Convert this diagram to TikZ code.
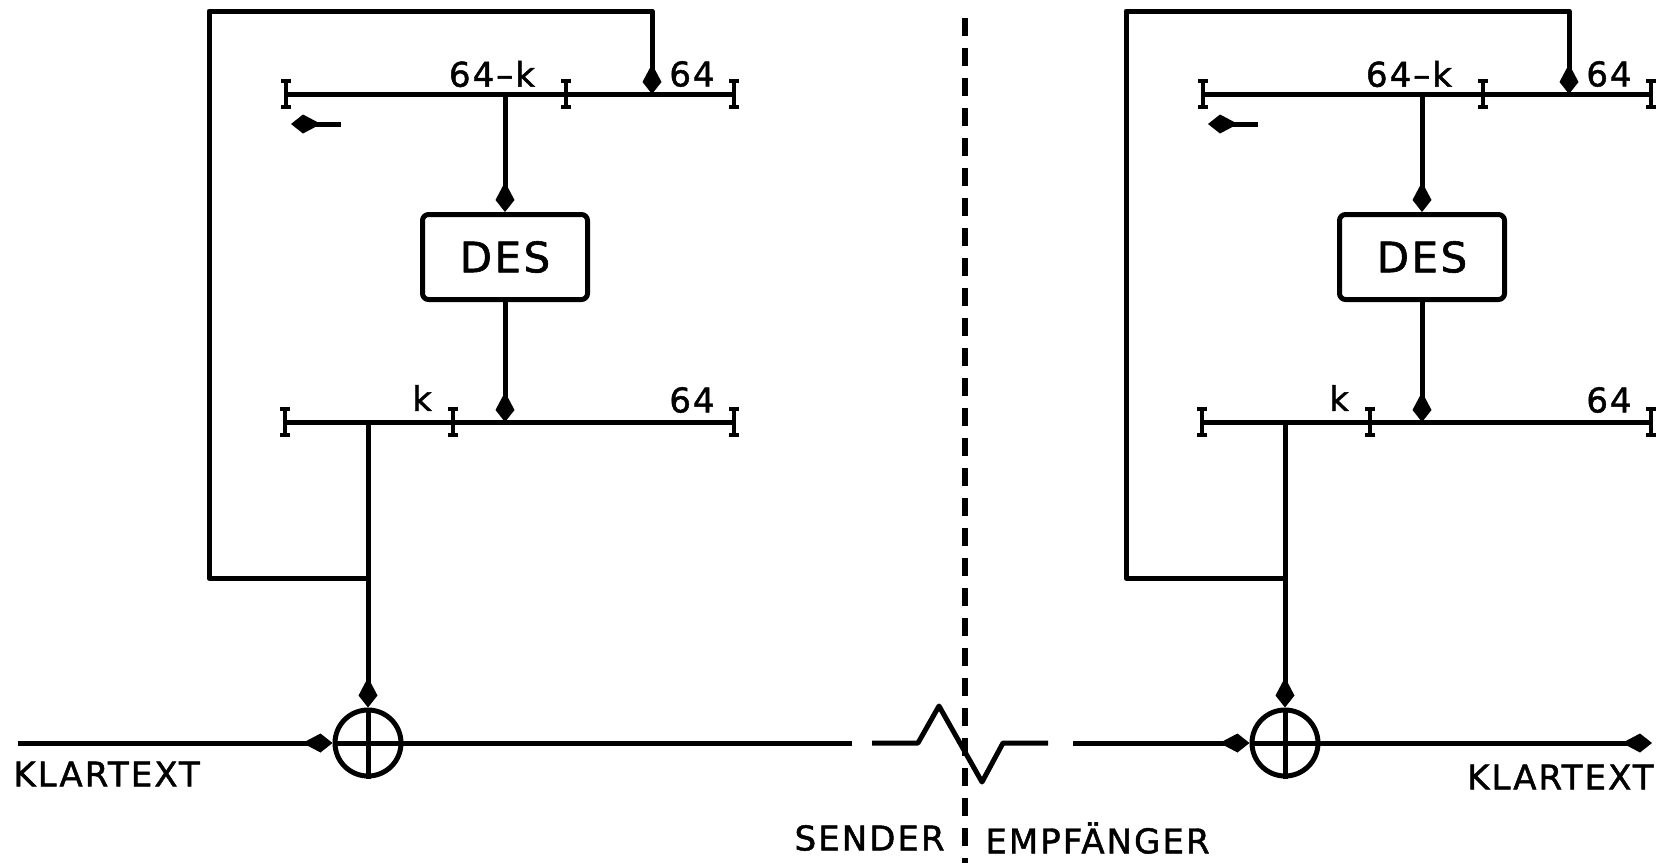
\documentclass[tikz,border=0pt]{standalone}
\usepackage{fontspec}
\setmainfont{DejaVu Sans}[LetterSpace=6, FakeBold=1.4]
\usetikzlibrary{arrows.meta}
\begin{document}
\begin{tikzpicture}[x=0.5pt,y=-0.5pt,
  ln/.style={line width=2.5pt, line join=round},
  arr/.style={ln, -{Kite[length=15pt,width=9.5pt,inset=9pt]}},
  lbl/.style={inner sep=0pt, font=\fontsize{17}{19}\selectfont},
  txt/.style={inner sep=0pt, font=\fontsize{17}{19}\selectfont},
  desbox/.style={ln, draw, rounded corners=3pt, minimum width=82.5pt, minimum height=42.5pt, inner sep=0pt, font=\fontsize{21}{24}\selectfont},
  xorc/.style={ln, draw, circle, minimum size=33pt, inner sep=0pt},
  ibeam/.pic={\draw[line width=2.3pt] (0,-13)--(0,13);
              \draw[line width=2pt] (-5,-13)--(5,-13) (-5,13)--(5,13);},
]
\useasboundingbox (0,0) rectangle (1662,863);

\foreach \p/\dx in {L/0,R/917}{
\begin{scope}[shift={(\dx,0)}]
  % upper register
  \coordinate (\p-ul) at (286,94);
  \coordinate (\p-um) at (566,94);
  \coordinate (\p-ur) at (734,94);
  \coordinate (\p-uo) at (505,94);
  \coordinate (\p-ui) at (652,94);
  % lower register
  \coordinate (\p-ll) at (285,422);
  \coordinate (\p-lm) at (453,422);
  \coordinate (\p-lr) at (734,422);
  \coordinate (\p-li) at (505,422);
  \coordinate (\p-lo) at (368,422);
  % loop
  \coordinate (\p-lb) at (368,578);
  \coordinate (\p-c1) at (209,578);
  \coordinate (\p-c2) at (209,11);
  \coordinate (\p-c3) at (652,11);
  % shift arrow
  \coordinate (\p-sa1) at (341,124);
  \coordinate (\p-sa2) at (291,124);

  \node[desbox] (\p-des) at (505,257) {DES};
  \node[xorc] (\p-xor) at (368,743) {};

  \draw[ln] (\p-ul) -- (\p-ur);
  \draw[ln] (\p-ll) -- (\p-lr);
  \pic at (\p-ul) {ibeam};
  \pic at (\p-um) {ibeam};
  \pic at (\p-ur) {ibeam};
  \pic at (\p-ll) {ibeam};
  \pic at (\p-lm) {ibeam};
  \pic at (\p-lr) {ibeam};

  \node[lbl] (\p-t1) at (492,74) {64–k};
  \node[lbl] (\p-t2) at (692,74) {64};
  \node[lbl] (\p-t3) at (422,398) {k};
  \node[lbl] (\p-t4) at (692,400) {64};

  \draw[arr] (\p-uo) -- (\p-des.north);
  \draw[arr] (\p-des.south) -- (\p-li);
  \draw[arr] (\p-lo) -- (\p-xor.north);
  \draw[arr] (\p-lb) -- (\p-c1) -- (\p-c2) -- (\p-c3) -- (\p-ui);
  \draw[arr] (\p-sa1) -- (\p-sa2);

  \draw[ln] (\p-xor.north) -- (\p-xor.south);
  \draw[ln] (\p-xor.west) -- (\p-xor.east);
\end{scope}
}

% transmission line
\coordinate (in1) at (18,743);
\coordinate (o1) at (852,743);
\coordinate (z0) at (872,743);
\coordinate (z1) at (918,743);
\coordinate (z2) at (939,706);
\coordinate (z3) at (982,782);
\coordinate (z4) at (1003,743);
\coordinate (z5) at (1048,743);
\coordinate (in2) at (1073,743);
\coordinate (out2) at (1652,743);

\draw[arr] (in1) -- (L-xor.west);
\draw[ln] (L-xor.east) -- (o1);
\draw[ln] (z0) -- (z1) -- (z2) -- (z3) -- (z4) -- (z5);
\draw[arr] (in2) -- (R-xor.west);
\draw[arr] (R-xor.east) -- (out2);

% separator
\coordinate (s1) at (965,18);
\coordinate (s2) at (965,863);
\draw[line width=2.6pt, dash pattern=on 9pt off 6pt] (s1) -- (s2);

\node[txt, anchor=west] (k1) at (13,774) {KLARTEXT};
\node[txt, anchor=east] (k2) at (1654,777) {KLARTEXT};
\node[txt, anchor=east] (snd) at (945,838) {SENDER};
\node[txt, anchor=west] (emp) at (985,838) {EMPFÄNGER};
\end{tikzpicture}
\end{document}
